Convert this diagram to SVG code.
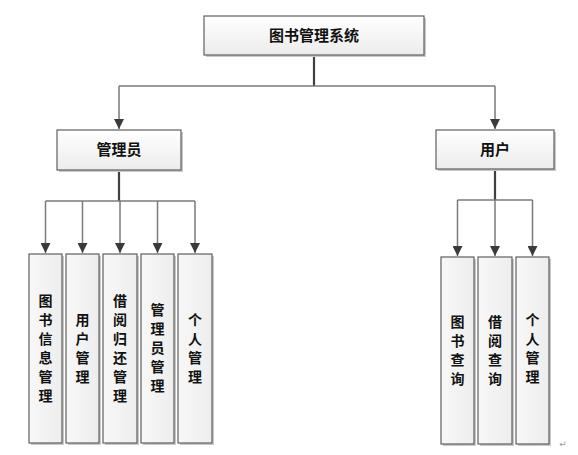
<svg xmlns="http://www.w3.org/2000/svg" width="578" height="455" viewBox="0 0 578 455">
<defs>
<linearGradient id="g" x1="0" y1="0" x2="0" y2="1">
<stop offset="0" stop-color="#ffffff"/>
<stop offset="1" stop-color="#ececec"/>
</linearGradient>
<linearGradient id="gv" x1="0" y1="0" x2="1" y2="0">
<stop offset="0" stop-color="#f8f8f8"/>
<stop offset="1" stop-color="#ededed"/>
</linearGradient>
<marker id="arr" viewBox="0 0 10 10" refX="10" refY="5" markerWidth="10" markerHeight="10" markerUnits="userSpaceOnUse" orient="auto">
<path d="M0,0 L10,5 L0,10 z" fill="#3a3a3a"/>
</marker>
<style>
.sh{fill:#c9c9c9;}
.bx{fill:url(#g);stroke:#5f5f5f;stroke-width:1.2;}
.vb{fill:url(#gv);stroke:#5f5f5f;stroke-width:1.2;}
.t{font-family:"Noto Sans CJK SC","Noto Sans",sans-serif;font-size:15px;font-weight:700;fill:#111;text-anchor:middle;}
.v{font-family:"Noto Sans CJK SC","Noto Sans",sans-serif;font-size:14px;font-weight:700;fill:#111;text-anchor:middle;}
.ln{stroke:#7a7a7a;stroke-width:1.5;fill:none;}
.st{stroke:#404040;stroke-width:2.2;fill:none;}
</style>
</defs>
<g id="connectors">
<line class="st" x1="314" y1="55" x2="314" y2="86"/>
<line class="ln" x1="119" y1="86" x2="495" y2="86"/>
<line class="ln" x1="119" y1="86" x2="119" y2="129" marker-end="url(#arr)"/>
<line class="ln" x1="495" y1="86" x2="495" y2="129" marker-end="url(#arr)"/>
<line class="st" x1="119" y1="170" x2="119" y2="201"/>
<line class="ln" x1="45.5" y1="201" x2="195" y2="201"/>
<line class="ln" x1="45.5" y1="201" x2="45.5" y2="253" marker-end="url(#arr)"/>
<line class="ln" x1="82.5" y1="201" x2="82.5" y2="253" marker-end="url(#arr)"/>
<line class="ln" x1="120" y1="201" x2="120" y2="253" marker-end="url(#arr)"/>
<line class="ln" x1="157.5" y1="201" x2="157.5" y2="253" marker-end="url(#arr)"/>
<line class="ln" x1="195" y1="201" x2="195" y2="253" marker-end="url(#arr)"/>
<line class="st" x1="495" y1="169" x2="495" y2="200"/>
<line class="ln" x1="457.5" y1="200" x2="532.5" y2="200"/>
<line class="ln" x1="457.5" y1="200" x2="457.5" y2="256" marker-end="url(#arr)"/>
<line class="ln" x1="495" y1="200" x2="495" y2="256" marker-end="url(#arr)"/>
<line class="ln" x1="532.5" y1="200" x2="532.5" y2="256" marker-end="url(#arr)"/>
</g>
<g id="root">
<rect class="sh" x="206" y="18" width="220" height="39"/>
<rect class="bx" x="204" y="16" width="220" height="39"/>
<text class="t" x="314" y="41">图书管理系统</text>
</g>
<g id="admin">
<rect class="sh" x="59" y="132" width="124" height="40"/>
<rect class="bx" x="57" y="130" width="124" height="40"/>
<text class="t" x="119" y="155">管理员</text>
</g>
<g id="user">
<rect class="sh" x="438" y="132" width="118" height="39"/>
<rect class="bx" x="436" y="130" width="118" height="39"/>
<text class="t" x="495" y="155">用户</text>
</g>
<g id="book-info">
<rect class="sh" x="31" y="256" width="33" height="189"/>
<rect class="vb" x="29" y="254" width="33" height="189"/>
<text class="v"><tspan x="45.5" y="305.5">图</tspan><tspan x="45.5" dy="19">书</tspan><tspan x="45.5" dy="19">信</tspan><tspan x="45.5" dy="19">息</tspan><tspan x="45.5" dy="19">管</tspan><tspan x="45.5" dy="19">理</tspan></text>
</g>
<g id="user-mgmt">
<rect class="sh" x="68" y="256" width="33" height="189"/>
<rect class="vb" x="66" y="254" width="33" height="189"/>
<text class="v"><tspan x="82.5" y="324.5">用</tspan><tspan x="82.5" dy="19">户</tspan><tspan x="82.5" dy="19">管</tspan><tspan x="82.5" dy="19">理</tspan></text>
</g>
<g id="borrow-return">
<rect class="sh" x="105" y="256" width="34" height="189"/>
<rect class="vb" x="103" y="254" width="34" height="189"/>
<text class="v"><tspan x="120" y="305.5">借</tspan><tspan x="120" dy="19">阅</tspan><tspan x="120" dy="19">归</tspan><tspan x="120" dy="19">还</tspan><tspan x="120" dy="19">管</tspan><tspan x="120" dy="19">理</tspan></text>
</g>
<g id="admin-mgmt">
<rect class="sh" x="143" y="256" width="33" height="189"/>
<rect class="vb" x="141" y="254" width="33" height="189"/>
<text class="v"><tspan x="157.5" y="315">管</tspan><tspan x="157.5" dy="19">理</tspan><tspan x="157.5" dy="19">员</tspan><tspan x="157.5" dy="19">管</tspan><tspan x="157.5" dy="19">理</tspan></text>
</g>
<g id="personal-admin">
<rect class="sh" x="180" y="256" width="34" height="189"/>
<rect class="vb" x="178" y="254" width="34" height="189"/>
<text class="v"><tspan x="195" y="324.5">个</tspan><tspan x="195" dy="19">人</tspan><tspan x="195" dy="19">管</tspan><tspan x="195" dy="19">理</tspan></text>
</g>
<g id="book-query">
<rect class="sh" x="443" y="259" width="33" height="187"/>
<rect class="vb" x="441" y="257" width="33" height="187"/>
<text class="v"><tspan x="457.5" y="326.5">图</tspan><tspan x="457.5" dy="19">书</tspan><tspan x="457.5" dy="19">查</tspan><tspan x="457.5" dy="19">询</tspan></text>
</g>
<g id="borrow-query">
<rect class="sh" x="480" y="259" width="34" height="187"/>
<rect class="vb" x="478" y="257" width="34" height="187"/>
<text class="v"><tspan x="495" y="326.5">借</tspan><tspan x="495" dy="19">阅</tspan><tspan x="495" dy="19">查</tspan><tspan x="495" dy="19">询</tspan></text>
</g>
<g id="personal-user">
<rect class="sh" x="518" y="259" width="33" height="187"/>
<rect class="vb" x="516" y="257" width="33" height="187"/>
<text class="v"><tspan x="532.5" y="324.5">个</tspan><tspan x="532.5" dy="19">人</tspan><tspan x="532.5" dy="19">管</tspan><tspan x="532.5" dy="19">理</tspan></text>
</g>
<text x="563" y="447" font-family="DejaVu Sans, sans-serif" font-size="9" fill="#999" text-anchor="middle">↵</text>
</svg>
